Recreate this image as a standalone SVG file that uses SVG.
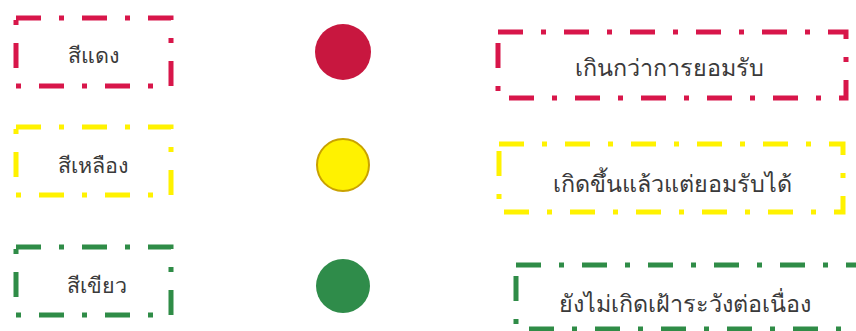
<svg xmlns="http://www.w3.org/2000/svg" width="856" height="331" viewBox="0 0 856 331">
<style>
.box{fill:none;stroke-width:5;stroke-dasharray:25 18 5 18}
.red{stroke:#d8164a}
.yel{stroke:#fff200}
.grn{stroke:#2f8c47}
text{font-family:"Noto Sans","DejaVu Sans",sans-serif;fill:#3a3a3a;text-anchor:middle;font-weight:300}
.s{font-size:21.5px}
.l{font-size:23.3px}
</style>
<rect width="856" height="331" fill="#fff"/>
<g id="red-label"><rect class="box red" x="16" y="18" width="155" height="68"/><text class="s" x="93" y="63">สีแดง</text></g>
<g id="red-dot"><circle cx="343" cy="52" r="28" fill="#c8173f"/></g>
<g id="red-desc"><rect class="box red" x="498" y="32" width="348" height="66"/><text class="l" x="669" y="76">เกินกว่าการยอมรับ</text></g>
<g id="yellow-label"><rect class="box yel" x="16" y="127" width="155" height="68"/><text class="s" x="93" y="173">สีเหลือง</text></g>
<g id="yellow-dot"><circle cx="343" cy="165" r="26" fill="#fff200" stroke="#c9a200" stroke-width="2"/></g>
<g id="yellow-desc"><rect class="box yel" x="499" y="144" width="344" height="68"/><text class="l" x="672" y="192">เกิดขึ้นแล้วแต่ยอมรับได้</text></g>
<g id="green-label"><rect class="box grn" x="16" y="247" width="155" height="68"/><text class="s" x="97" y="293">สีเขียว</text></g>
<g id="green-dot"><circle cx="343" cy="286" r="27" fill="#2f8c4a"/></g>
<g id="green-desc"><rect class="box grn" x="516" y="265" width="350" height="64"/><text class="l" x="685" y="312">ยังไม่เกิดเฝ้าระวังต่อเนื่อง</text></g>
<g id="connectors"/>
</svg>
